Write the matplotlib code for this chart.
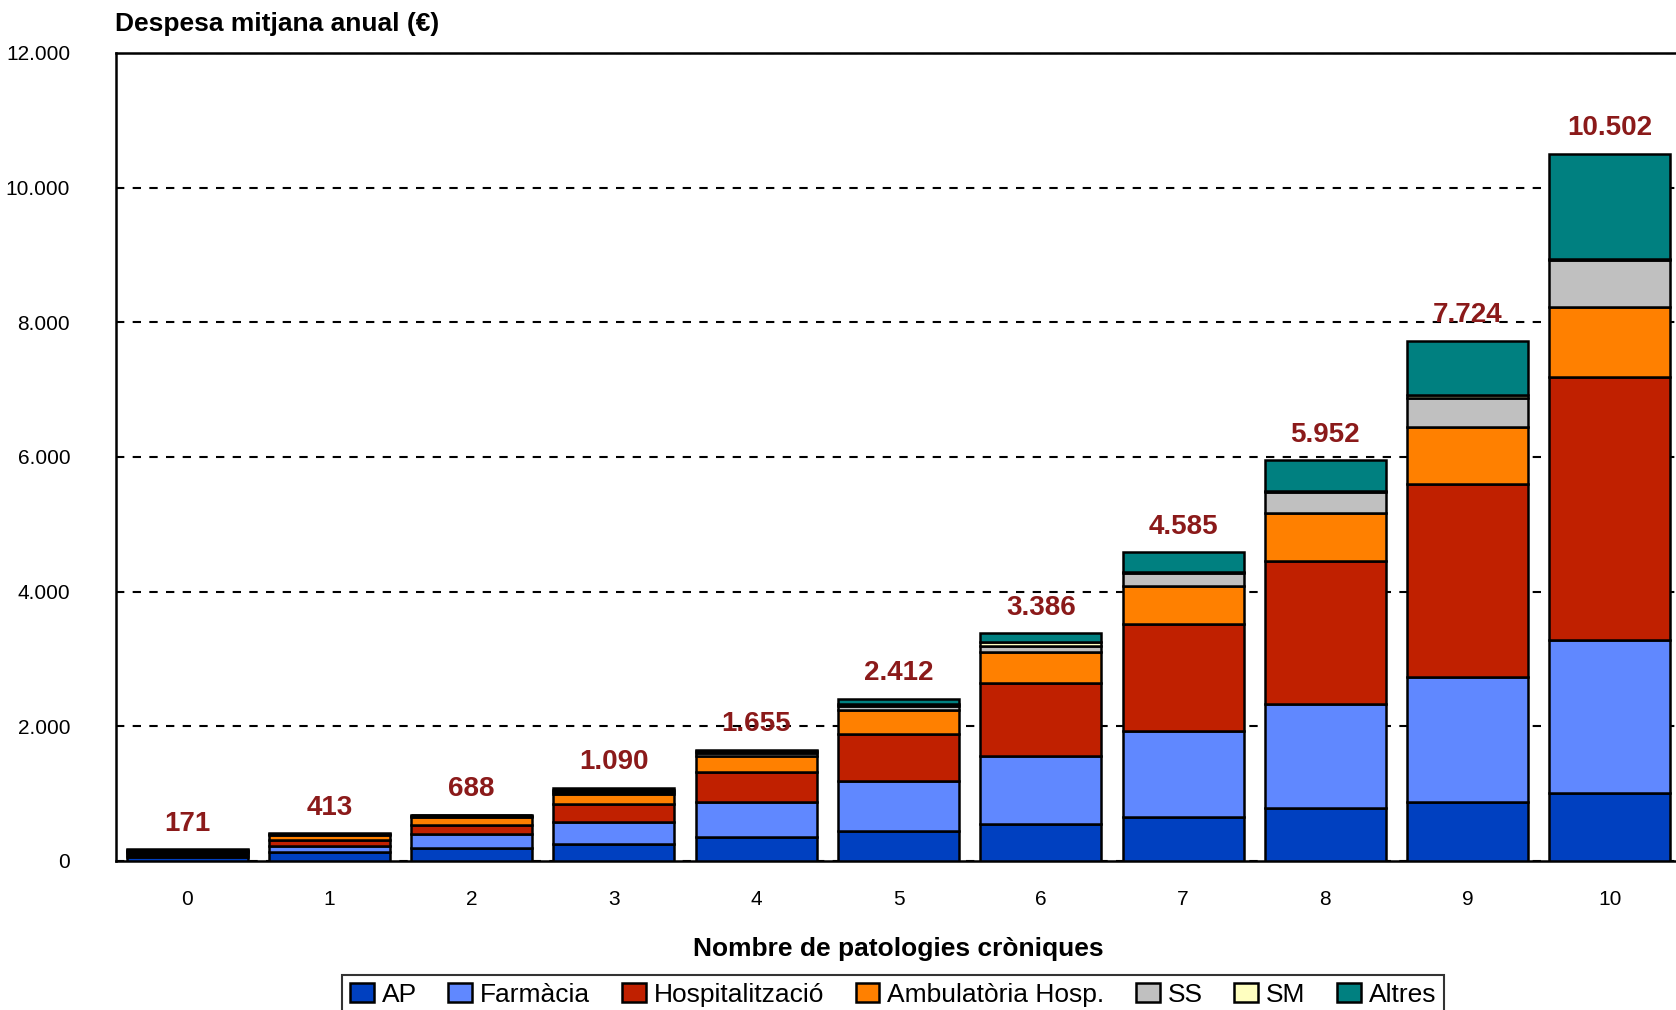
import numpy as np
from matplotlib import pyplot as plt
from matplotlib.ticker import FuncFormatter

categories = ['0', '1', '2', '3', '4', '5', '6', '7', '8', '9', '10']
totals = [171, 413, 688, 1090, 1655, 2412, 3386, 4585, 5952, 7724, 10502]

ap = [60, 130, 195, 255, 360, 440, 549, 652, 793, 875, 1005]
farmacia = [30, 95, 200, 330, 509, 745, 1016, 1277, 1544, 1859, 2272]
hospitalitzacio = [30, 85, 145, 265, 454, 706, 1076, 1593, 2125, 2869, 3909]
ambulatoria = [15, 75, 115, 145, 237, 354, 457, 560, 707, 843, 1037]
ss = [12, 10, 15, 35, 40, 50, 100, 195, 309, 435, 710]
sm = [12, 8, 8, 25, 30, 40, 50, 15, 10, 38, 15]
altres = [12, 10, 10, 35, 25, 77, 138, 293, 464, 805, 1554]

series_names = ['AP', 'Farmàcia', 'Hospitalització', 'Ambulatòria Hosp.', 'SS', 'SM', 'Altres']
series_values = [ap, farmacia, hospitalitzacio, ambulatoria, ss, sm, altres]
series_colors = ['#0040C0', '#6088FF', '#C02000', '#FF8000', '#C0C0C0', '#FFFFC0', '#008080']

plt.rcParams['font.family'] = ['Liberation Sans', 'DejaVu Sans']

fig = plt.figure(figsize=(16.76, 10.10), dpi=100)
ax = fig.add_axes([116 / 1676, 149 / 1010, 1565 / 1676, 808 / 1010])

x = np.arange(len(categories))
bottom = np.zeros(len(categories))
for name, vals, col in zip(series_names, series_values, series_colors):
    ax.bar(x, vals, bottom=bottom, width=0.85, color=col, edgecolor='black',
           linewidth=1.8, label=name, zorder=3)
    bottom += np.array(vals)

# etiquetes del total sobre cada barra
for xi, t in zip(x, totals):
    ax.annotate(f"{t:,}".replace(',', '.'), (xi, t), xytext=(0, 9), textcoords='offset points',
                ha='center', va='bottom', color='#8B1A1A', fontsize=20, fontweight='bold', zorder=4)

ax.set_xlim(-0.5, 10.5)
ax.set_ylim(0, 12000)
ax.set_yticks(np.arange(0, 12001, 2000))
ax.yaxis.set_major_formatter(FuncFormatter(lambda v, p: f"{int(v):,}".replace(',', '.')))
ax.set_xticks(x)
ax.set_xticklabels(categories)
ax.tick_params(axis='y', length=0, pad=33, labelsize=15)
ax.tick_params(axis='x', length=0, pad=21, labelsize=15)
ax.grid(axis='y', color='black', linestyle=(0, (4, 4)), linewidth=1.5, zorder=0)
for s in ax.spines.values():
    s.set_linewidth(1.8)

ax.set_xlabel('Nombre de patologies cròniques', fontsize=19, fontweight='bold', labelpad=20)
fig.text(115 / 1676, 1 - 24 / 1010, 'Despesa mitjana anual (€)', fontsize=19, fontweight='bold',
         ha='left', va='center')

leg = fig.legend(loc='upper left', bbox_to_anchor=(342 / 1676, 1 - 975 / 1010), ncol=7,
                 fontsize=19, frameon=True, fancybox=False, edgecolor='black',
                 handlelength=0.9, handleheight=0.7, handletextpad=0.3, columnspacing=1.2,
                 borderpad=0.3, borderaxespad=0)
leg.get_frame().set_linewidth(1.5)

plt.savefig('out.png', dpi=100)
plt.close()
